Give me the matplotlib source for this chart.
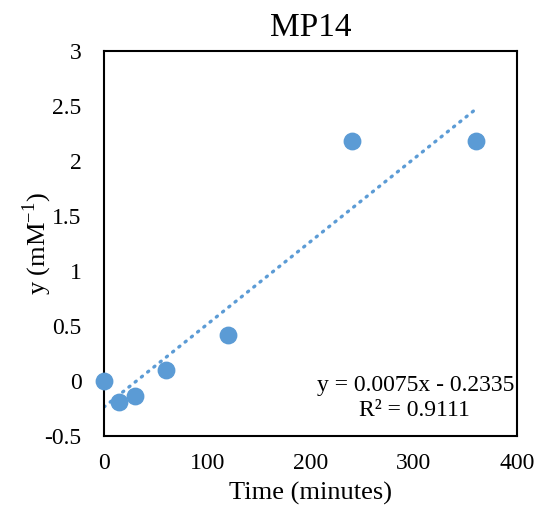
import numpy as np
import matplotlib
matplotlib.use('Agg')
import matplotlib.pyplot as plt

# time (minutes) and y (mM^-1)
time_min = [0, 15, 30, 60, 120, 240, 360]
y_vals = [0.0, -0.19, -0.13, 0.10, 0.42, 2.18, 2.18]
eq_text = 'y = 0.0075x - 0.2335'
r2_text = 'R² = 0.9111'
xticks = [0, 100, 200, 300, 400]
yticks = [-0.5, 0, 0.5, 1, 1.5, 2, 2.5, 3]
ytick_labels = ['-0.5', '0', '0.5', '1', '1.5', '2', '2.5', '3']

plt.rcParams['font.family'] = ['Liberation Serif', 'DejaVu Serif']
plt.rcParams['mathtext.fontset'] = 'custom'
plt.rcParams['mathtext.rm'] = 'Liberation Serif'
blue = '#5B9BD5'

fig = plt.figure(figsize=(5.47, 5.12), dpi=100)
ax = fig.add_axes([0.190, 0.148, 0.755, 0.752])

# linear trendline over the data range
slope, icept = np.polyfit(time_min, y_vals, 1)
xt = np.array([min(time_min), max(time_min)])
ax.plot(xt, slope * xt + icept, color=blue, lw=2.4,
        linestyle=(0, (0.4, 2.0)), dash_capstyle='round', zorder=2)

ax.scatter(time_min, y_vals, s=140, color=blue, zorder=3, clip_on=False)

ax.set_xlim(0, 400)
ax.set_ylim(-0.5, 3)
ax.set_xticks(xticks)
ax.set_yticks(yticks)
ax.set_yticklabels(ytick_labels)
ax.tick_params(length=0, labelsize=17)
ax.tick_params(axis='y', pad=16)
ax.tick_params(axis='x', pad=12)
for s in ax.spines.values():
    s.set_linewidth(1.5)
    s.set_color('black')

ax.set_title('MP14', fontsize=24, pad=11)
ax.set_xlabel('Time (minutes)', fontsize=19, labelpad=6)
ax.set_ylabel('y (mM$^{\\mathregular{-1}}$)', fontsize=19)
ax.yaxis.set_label_coords(-0.12, 0.5)

ax.text(0.995, 0.132, eq_text, transform=ax.transAxes, ha='right', va='center', fontsize=17)
ax.text(0.753, 0.066, r2_text, transform=ax.transAxes, ha='center', va='center', fontsize=17)

fig.savefig('out.png', dpi=100)
